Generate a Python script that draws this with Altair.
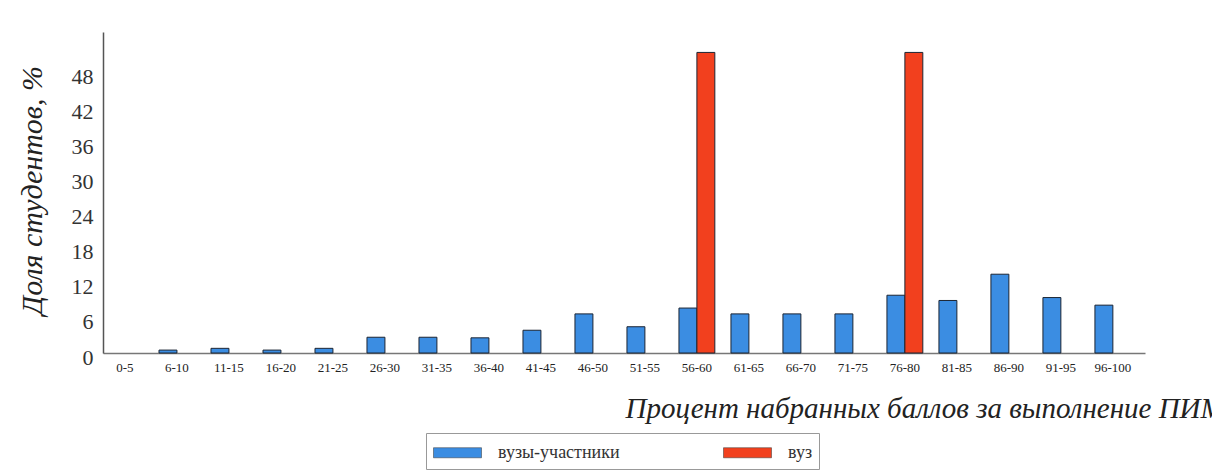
import altair as alt
import pandas as pd

categories = ["0-5", "6-10", "11-15", "16-20", "21-25", "26-30", "31-35", "36-40",
              "41-45", "46-50", "51-55", "56-60", "61-65", "66-70", "71-75", "76-80",
              "81-85", "86-90", "91-95", "96-100"]
participants = [0, 0.5, 0.8, 0.5, 0.8, 2.7, 2.7, 2.6, 3.9, 6.7, 4.5, 7.7, 6.7, 6.7, 6.7,
                9.9, 9.0, 13.5, 9.5, 8.2]
university = [0, 0, 0, 0, 0, 0, 0, 0, 0, 0, 0, 51.5, 0, 0, 0, 51.5, 0, 0, 0, 0]
series_names = ["вузы-участники", "вуз"]
series_colors = ["#3b8de2", "#f2401e"]
y_ticks = [0, 6, 12, 18, 24, 30, 36, 42, 48]

rows = []
for c, p, u in zip(categories, participants, university):
    if p > 0:
        rows.append({"cat": c, "series": series_names[0], "value": p})
    if u > 0:
        rows.append({"cat": c, "series": series_names[1], "value": u})
df = pd.DataFrame(rows)

serif = "Liberation Serif"

chart = alt.Chart(df).mark_bar(stroke="#1c2533", strokeWidth=1).encode(
    x=alt.X("cat:N", sort=categories,
            scale=alt.Scale(domain=categories, paddingInner=0.31, paddingOuter=0.175, align=0.22),
            axis=alt.Axis(title="Процент набранных баллов за выполнение ПИМ",
                          titleFont=serif, titleFontStyle="italic", titleFontWeight="normal",
                          titleFontSize=29, titleColor="#222",
                          titleX=522, titleY=55, titleAlign="left", titleBaseline="middle",
                          labelFont=serif, labelFontSize=13, labelColor="#222",
                          labelAngle=0, labelPadding=8, ticks=False,
                          domainColor="#777", domainWidth=1.5, grid=False)),
    xOffset=alt.XOffset("series:N", sort=series_names,
                        scale=alt.Scale(domain=series_names, paddingInner=0, paddingOuter=0)),
    y=alt.Y("value:Q", scale=alt.Scale(domain=[0, 55], nice=False),
            axis=alt.Axis(title="Доля студентов, %", values=y_ticks,
                          titleFont=serif, titleFontStyle="italic", titleFontWeight="normal",
                          titleFontSize=30, titleColor="#222",
                          titleX=-71, titleY=158, titleAlign="center", titleBaseline="middle",
                          labelFont=serif, labelFontSize=22, labelColor="#333",
                          labelPadding=10, labelOffset=4, ticks=False,
                          domainColor="#555", domainWidth=1.5, grid=False)),
    color=alt.Color("series:N", sort=series_names,
                    scale=alt.Scale(domain=series_names, range=series_colors),
                    legend=alt.Legend(title=None, orient="none", legendX=323, legendY=401,
                                      direction="horizontal", columns=2,
                                      symbolType="M-2,-0.42H2V0.42H-2Z", symbolSize=576,
                                      symbolOffset=12,
                                      symbolStrokeColor="#333", symbolStrokeWidth=0.5,
                                      labelFont=serif, labelFontSize=18, labelColor="#333",
                                      labelOffset=28, columnPadding=102,
                                      strokeColor="#999", padding=7)),
).properties(
    width=1042, height=321,
    autosize=alt.AutoSizeParams(type="none"),
    padding={"left": 95, "top": 24, "right": 67, "bottom": 120},
).configure_view(stroke=None)

chart.save("out.html", embed_options={"renderer": "svg", "actions": False})
